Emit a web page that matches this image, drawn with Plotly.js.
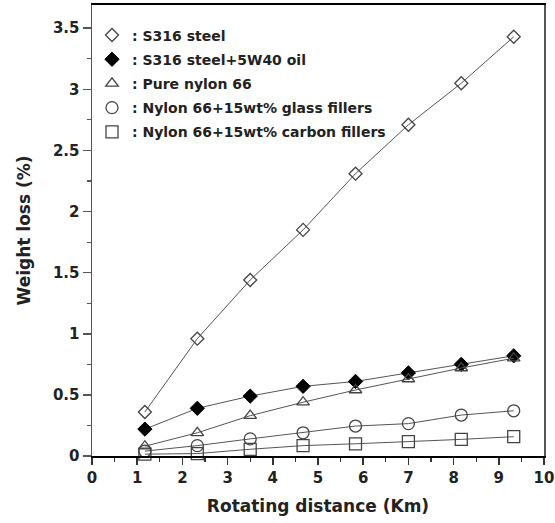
<!DOCTYPE html>
<html>
<head>
<meta charset="utf-8">
<script src="https://cdn.plot.ly/plotly-3.0.1.min.js"></script>
<style>html,body{margin:0;padding:0;background:#fff}#chart{width:555px;height:523px}</style>
</head>
<body>
<div id="chart"></div>
<script>
// Rotating distance (Km)
const distance = [1.17, 2.33, 3.5, 4.67, 5.83, 7.0, 8.17, 9.33];
// Weight loss (%)
const s316Steel    = [0.36, 0.96, 1.44, 1.85, 2.31, 2.71, 3.05, 3.43];
const s316Oil      = [0.22, 0.39, 0.49, 0.57, 0.61, 0.68, 0.75, 0.82];
const pureNylon    = [0.08, 0.19, 0.33, 0.44, 0.54, 0.63, 0.72, 0.80];
const nylonGlass   = [0.04, 0.085, 0.14, 0.19, 0.245, 0.265, 0.335, 0.37];
const nylonCarbon  = [0.015, 0.02, 0.055, 0.085, 0.10, 0.117, 0.136, 0.158];
const seriesNames = [': S316 steel', ': S316 steel+5W40 oil', ': Pure nylon 66',
                     ': Nylon 66+15wt% glass fillers', ': Nylon 66+15wt% carbon fillers'];
const xTicks = [0,1,2,3,4,5,6,7,8,9,10];
const yTicks = [0,0.5,1,1.5,2,2.5,3,3.5];
const yTickText = ['0','0.5','1','1.5','2','2.5','3','3.5'];

const seriesData = [s316Steel, s316Oil, pureNylon, nylonGlass, nylonCarbon];
const markers = [
  {symbol:'diamond-open', size:10, color:'#444', line:{width:1.3}},
  {symbol:'diamond', size:11, color:'#000', line:{width:1, color:'#000'}},
  {symbol:'triangle-up-open', size:11, color:'#444', line:{width:1.3}},
  {symbol:'circle-open', size:12, color:'#444', line:{width:1.3}},
  {symbol:'square-open', size:12, color:'#444', line:{width:1.3}}
];

const traces = [];
seriesData.forEach((ys, i) => {
  traces.push({
    x: distance, y: ys, type:'scatter', mode:'lines+markers',
    line:{color:'#555', width:1}, marker: markers[i],
    showlegend:false, cliponaxis:false, hoverinfo:'skip'
  });
});
seriesData.forEach((ys, i) => {
  traces.push({
    x: [null], y: [null], type:'scatter', mode:'markers',
    marker: markers[i], name: seriesNames[i], showlegend:true,
    legendgroup: 'g' + i
  });
});

const font = 'DejaVu Sans, sans-serif';
const layout = {
  width:555, height:523,
  margin:{l:92, r:11, t:5, b:67},
  paper_bgcolor:'#fff', plot_bgcolor:'#fff',
  font:{family:font, color:'#222'},
  showlegend:true,
  legend:{x:0, y:0.968, xanchor:'left', yanchor:'top', bgcolor:'rgba(0,0,0,0)',
          font:{family:font, size:14, color:'#222', weight:'bold'}, itemwidth:30,
          tracegroupgap:3, traceorder:'grouped'},
  xaxis:{range:[0,10], tickvals:xTicks, ticktext:xTicks.map(String),
         ticks:'outside', ticklen:7, tickwidth:1.5, tickcolor:'#333',
         minor:{dtick:0.5, ticks:'outside', ticklen:4, tickwidth:1.2, tickcolor:'#333'},
         showline:true, linecolor:'#000', linewidth:2, mirror:true,
         showgrid:false, zeroline:false,
         tickfont:{family:font, size:15, color:'#222', weight:'bold'},
         title:{text:'Rotating distance (Km)', font:{family:font, size:17, color:'#222', weight:'bold'}, standoff:14}},
  yaxis:{range:[0,3.69], tickvals:yTicks, ticktext:yTickText,
         ticks:'outside', ticklen:8, tickwidth:1.5, tickcolor:'#555',
         minor:{dtick:0.25, ticks:'outside', ticklen:4, tickwidth:1.2, tickcolor:'#555'},
         showline:true, linecolor:'#555', linewidth:1.5, mirror:true,
         showgrid:false, zeroline:false,
         tickfont:{family:font, size:15, color:'#222', weight:'bold'},
         title:{text:'Weight loss (%)', font:{family:font, size:17, color:'#222', weight:'bold'}, standoff:18}}
};
Plotly.newPlot('chart', traces, layout, {displayModeBar:false, staticPlot:true});
</script>
</body>
</html>
